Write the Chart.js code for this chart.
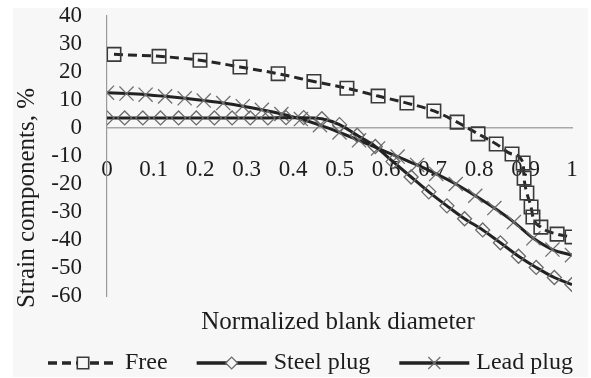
<!DOCTYPE html>
<html>
<head>
<meta charset="utf-8">
<title>Strain components</title>
<script src="https://cdn.jsdelivr.net/npm/chart.js@4.4.1/dist/chart.umd.min.js"></script>
<style>
  html, body { margin: 0; padding: 0; background: #fff; }
  #wrap { width: 591px; height: 378px; }
</style>
</head>
<body>
<div id="wrap"><canvas id="strainChart" width="591" height="378"></canvas></div>
<script>
// normalized blank diameter (x) and strain component in % (y) per test case
const freeX = [0.015, 0.112, 0.2, 0.286, 0.368, 0.445, 0.516, 0.583, 0.645, 0.703, 0.753,
               0.798, 0.837, 0.871, 0.895, 0.897, 0.903, 0.912, 0.916, 0.933, 0.968, 1.0];
const freeY = [26.3, 25.6, 24.2, 21.8, 19.4, 16.6, 14.2, 11.4, 8.9, 6.1, 2.1,
               -2.1, -5.7, -9.3, -12.5, -17.9, -23.2, -28.2, -31.8, -35.4, -37.9, -38.9];

const steelX = [0, 0.038, 0.077, 0.115, 0.154, 0.192, 0.231, 0.269, 0.308, 0.346, 0.385,
                0.423, 0.462, 0.5, 0.538, 0.577, 0.615, 0.654, 0.692, 0.731, 0.769,
                0.808, 0.846, 0.885, 0.923, 0.962, 1.0];
const steelY = [3.6, 3.6, 3.6, 3.6, 3.6, 3.6, 3.6, 3.6, 3.6, 3.6, 3.7,
                3.7, 3.3, 1.2, -2.6, -6.6, -12, -17.5, -22.8, -27.8, -32.4,
                -36.4, -41, -45.8, -49.8, -53.4, -55.9];

const leadX = [0, 0.042, 0.083, 0.125, 0.167, 0.208, 0.25, 0.292, 0.333, 0.375, 0.417,
               0.458, 0.5, 0.542, 0.583, 0.625, 0.667, 0.708, 0.75, 0.792, 0.833,
               0.875, 0.917, 0.958, 1.0];
const leadY = [12.6, 12.3, 11.9, 11.3, 10.6, 9.8, 8.9, 7.8, 6.5, 5.0, 3.2,
               1.0, -1.6, -4.4, -7.3, -10.2, -13.2, -16.4, -20, -24.2, -28.6,
               -33.6, -39.4, -43.4, -45.4];

const xTicks = [0, 0.1, 0.2, 0.3, 0.4, 0.5, 0.6, 0.7, 0.8, 0.9, 1];
const yTicks = [40, 30, 20, 10, 0, -10, -20, -30, -40, -50, -60];

const SERIF = '"Liberation Serif", "Times New Roman", serif';
const TEXT = '#1c1c1c';
const NONE = 'rgba(0,0,0,0)';

function toPoints(xs, ys) {
  return xs.map((x, i) => ({ x: x, y: ys[i] }));
}

// grey panel behind the plot
const panel = {
  id: 'panel',
  beforeDraw(chart) {
    const ctx = chart.ctx;
    ctx.save();
    ctx.fillStyle = '#ffffff';
    ctx.fillRect(0, 0, chart.width, chart.height);
    ctx.fillStyle = '#f7f7f7';
    ctx.fillRect(13, 8, 575, 369);
    ctx.restore();
  }
};

// axis titles and the line+marker legend row
const captions = {
  id: 'captions',
  afterDraw(chart) {
    const ctx = chart.ctx;
    ctx.save();
    ctx.fillStyle = TEXT;
    ctx.font = '25px ' + SERIF;
    ctx.textAlign = 'center';
    ctx.textBaseline = 'middle';
    ctx.fillText('Normalized blank diameter', 338, 322);

    ctx.save();
    ctx.translate(27, 198);
    ctx.rotate(-Math.PI / 2);
    ctx.fillText('Strain components, %', 0, 0);
    ctx.restore();

    const y = 363;
    let x = 48;
    ctx.font = '24px ' + SERIF;
    ctx.textAlign = 'left';
    chart.data.datasets.forEach(ds => {
      ctx.strokeStyle = ds.borderColor;
      ctx.lineWidth = ds.borderWidth + 0.5;
      ctx.setLineDash(ds.borderDash || []);
      ctx.beginPath();
      ctx.moveTo(x, y);
      ctx.lineTo(x + 70, y);
      ctx.stroke();
      ctx.setLineDash([]);

      ctx.strokeStyle = ds.pointBorderColor;
      ctx.fillStyle = '#f7f7f7';
      ctx.lineWidth = ds.pointBorderWidth;
      Chart.helpers.drawPoint(ctx, {
        pointStyle: ds.pointStyle,
        radius: ds.pointRadius * 0.85,
        rotation: 0,
        borderWidth: ds.pointBorderWidth
      }, x + 35, y);

      ctx.fillStyle = TEXT;
      ctx.fillText(ds.label, x + 77, y);
      x += 77 + ctx.measureText(ds.label).width + 29;
    });
    ctx.restore();
  }
};

new Chart(document.getElementById('strainChart'), {
  type: 'line',
  data: {
    datasets: [
      {
        label: 'Free',
        data: toPoints(freeX, freeY),
        borderColor: '#262626',
        borderWidth: 3,
        borderDash: [9, 5],
        pointStyle: 'rect',
        pointRadius: 9.5,
        pointBorderColor: '#3a3a3a',
        pointBorderWidth: 1.6,
        pointBackgroundColor: NONE,
        cubicInterpolationMode: 'monotone'
      },
      {
        label: 'Steel plug',
        data: toPoints(steelX, steelY),
        borderColor: '#222222',
        borderWidth: 3,
        pointStyle: 'rectRot',
        pointRadius: 7,
        pointBorderColor: '#6a6a6a',
        pointBorderWidth: 1.3,
        pointBackgroundColor: NONE,
        cubicInterpolationMode: 'monotone'
      },
      {
        label: 'Lead plug',
        data: toPoints(leadX, leadY),
        borderColor: '#222222',
        borderWidth: 3,
        pointStyle: 'crossRot',
        pointRadius: 10,
        pointBorderColor: '#707070',
        pointBorderWidth: 1.3,
        pointBackgroundColor: NONE,
        cubicInterpolationMode: 'monotone'
      }
    ]
  },
  options: {
    responsive: false,
    animation: false,
    devicePixelRatio: 1,
    layout: { autoPadding: false, padding: { left: 0, top: 16, right: 19, bottom: 82 } },
    plugins: {
      legend: { display: false },
      tooltip: { enabled: false }
    },
    scales: {
      x: {
        type: 'linear',
        min: 0,
        max: 1,
        position: { y: 0 },
        afterBuildTicks: s => { s.ticks = xTicks.map(v => ({ value: v })); },
        ticks: {
          padding: 0,
          autoSkip: false,
          maxRotation: 0,
          color: TEXT,
          font: { family: SERIF, size: 23 },
          callback: v => String(v)
        },
        // invisible tick marks keep the labels clear of the zero line
        grid: { display: true, drawOnChartArea: false, drawTicks: true, tickLength: 28, tickColor: NONE },
        border: { display: true, color: '#a8a8a8', width: 1.5 }
      },
      y: {
        type: 'linear',
        min: -60,
        max: 40,
        position: 'left',
        afterBuildTicks: s => { s.ticks = yTicks.map(v => ({ value: v })); },
        afterFit: s => { s.width = 107; },
        ticks: {
          padding: 0,
          autoSkip: false,
          color: TEXT,
          font: { family: SERIF, size: 23 },
          callback: v => String(v)
        },
        grid: { display: true, drawOnChartArea: false, drawTicks: true, tickLength: 25, tickColor: NONE },
        border: { display: true, color: '#9a9a9a', width: 1.2 }
      }
    }
  },
  plugins: [panel, captions]
});
</script>
</body>
</html>
